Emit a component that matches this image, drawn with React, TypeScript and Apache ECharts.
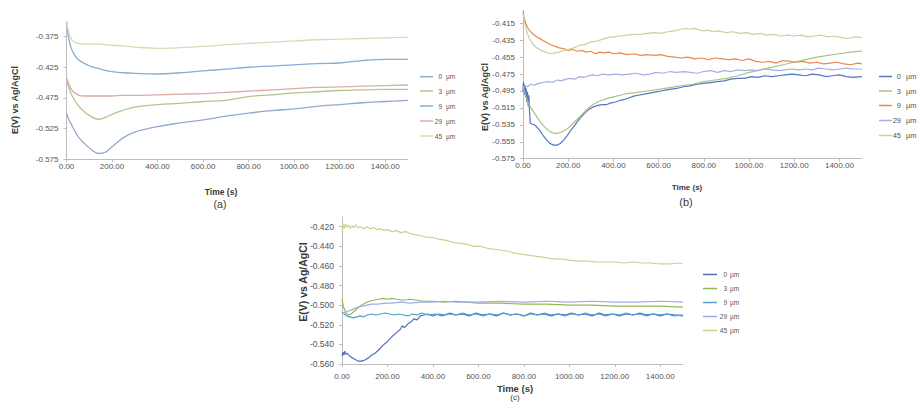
import React, { useEffect, useRef } from "react";
import * as echarts from "echarts";

// ---------- labels ----------
const SIZES = ["0", "3", "9", "29", "45"];
const UNIT = "µm";
const Y_TITLE = "E(V) vs Ag/AgCl";
const X_TITLE = "Time (s)";
const PANEL_TAGS = ["(a)", "(b)", "(c)"];

// ---------- panel (a) ----------
const TIME_A = [0, 10, 25, 50, 80, 110, 140, 170, 200, 250, 300, 400, 500, 600, 700, 800, 900, 1000, 1100, 1200, 1300, 1400, 1500];
const A_0UM = [-0.500, -0.510, -0.521, -0.538, -0.550, -0.560, -0.566, -0.564, -0.555, -0.540, -0.531, -0.522, -0.516, -0.511, -0.505, -0.500, -0.496, -0.493, -0.489, -0.486, -0.483, -0.481, -0.479];
const A_3UM = [-0.443, -0.458, -0.472, -0.487, -0.498, -0.506, -0.510, -0.507, -0.502, -0.495, -0.490, -0.486, -0.484, -0.481, -0.479, -0.473, -0.470, -0.467, -0.465, -0.463, -0.462, -0.461, -0.461];
const A_9UM = [-0.350, -0.378, -0.398, -0.412, -0.419, -0.424, -0.427, -0.430, -0.432, -0.434, -0.435, -0.436, -0.434, -0.431, -0.428, -0.425, -0.423, -0.421, -0.419, -0.418, -0.414, -0.412, -0.412];
const A_29UM = [-0.443, -0.452, -0.463, -0.470, -0.472, -0.472, -0.472, -0.472, -0.472, -0.471, -0.471, -0.470, -0.469, -0.468, -0.466, -0.464, -0.462, -0.460, -0.458, -0.457, -0.456, -0.455, -0.454];
const A_45UM = [-0.350, -0.368, -0.381, -0.386, -0.387, -0.387, -0.387, -0.388, -0.389, -0.390, -0.392, -0.394, -0.393, -0.391, -0.388, -0.386, -0.384, -0.382, -0.380, -0.379, -0.378, -0.377, -0.376];

// ---------- panel (b) : [time, E] ----------
const B_0UM = [[0,-0.495],[2,-0.484],[4,-0.497],[6,-0.487],[8,-0.500],[10,-0.489],[12,-0.503],[14,-0.492],[17,-0.508],[20,-0.496],[23,-0.513],[26,-0.500],[29,-0.520],[32,-0.533],[40,-0.534],[50,-0.535],[60,-0.537],[75,-0.542],[90,-0.548],[105,-0.553],[120,-0.557],[135,-0.559],[150,-0.559],[165,-0.557],[180,-0.553],[195,-0.548],[210,-0.542],[230,-0.535],[250,-0.528],[270,-0.522],[290,-0.517],[310,-0.514],[330,-0.512],[350,-0.511],[370,-0.511],[390,-0.509],[410,-0.508],[430,-0.506],[450,-0.505],[470,-0.503],[490,-0.501],[510,-0.500],[530,-0.499],[550,-0.498],[570,-0.497],[590,-0.496],[610,-0.495],[630,-0.494],[650,-0.493],[680,-0.492],[710,-0.490],[740,-0.489],[770,-0.487],[800,-0.486],[830,-0.485],[860,-0.484],[890,-0.483],[920,-0.481],[950,-0.480],[980,-0.480],[1010,-0.478],[1040,-0.479],[1070,-0.477],[1100,-0.478],[1130,-0.477],[1160,-0.476],[1190,-0.475],[1220,-0.476],[1250,-0.477],[1280,-0.475],[1310,-0.476],[1340,-0.478],[1370,-0.477],[1400,-0.476],[1430,-0.478],[1460,-0.479],[1500,-0.478]];
const B_3UM = [[0,-0.490],[8,-0.497],[16,-0.504],[25,-0.510],[35,-0.515],[45,-0.519],[60,-0.525],[75,-0.531],[90,-0.536],[105,-0.540],[120,-0.543],[135,-0.545],[150,-0.545],[165,-0.544],[180,-0.542],[195,-0.540],[210,-0.536],[230,-0.531],[250,-0.526],[270,-0.520],[290,-0.515],[310,-0.511],[330,-0.508],[350,-0.506],[370,-0.504],[400,-0.502],[430,-0.500],[460,-0.498],[500,-0.497],[550,-0.495],[600,-0.493],[650,-0.491],[700,-0.489],[750,-0.487],[800,-0.484],[850,-0.482],[900,-0.480],[950,-0.477],[1000,-0.473],[1050,-0.470],[1100,-0.467],[1150,-0.464],[1200,-0.461],[1250,-0.458],[1300,-0.455],[1350,-0.453],[1400,-0.451],[1450,-0.449],[1500,-0.448]];
const B_9UM = [[0,-0.401],[5,-0.408],[12,-0.415],[20,-0.420],[30,-0.424],[45,-0.428],[60,-0.431],[80,-0.434],[100,-0.437],[120,-0.440],[140,-0.442],[160,-0.444],[180,-0.445],[200,-0.447],[220,-0.446],[240,-0.448],[260,-0.447],[280,-0.449],[300,-0.448],[320,-0.451],[340,-0.449],[360,-0.450],[380,-0.449],[400,-0.451],[430,-0.450],[460,-0.452],[490,-0.451],[520,-0.453],[550,-0.452],[580,-0.453],[610,-0.452],[640,-0.454],[670,-0.455],[700,-0.456],[730,-0.455],[760,-0.457],[790,-0.456],[820,-0.458],[850,-0.456],[880,-0.457],[910,-0.458],[940,-0.457],[970,-0.459],[1000,-0.457],[1030,-0.460],[1060,-0.461],[1090,-0.460],[1120,-0.462],[1150,-0.459],[1180,-0.460],[1210,-0.461],[1240,-0.460],[1270,-0.462],[1300,-0.461],[1330,-0.463],[1360,-0.462],[1390,-0.461],[1420,-0.463],[1450,-0.464],[1480,-0.462],[1500,-0.463]];
const B_29UM = [[0,-0.492],[10,-0.489],[20,-0.490],[35,-0.487],[50,-0.488],[70,-0.486],[90,-0.485],[110,-0.484],[130,-0.485],[150,-0.482],[170,-0.483],[190,-0.481],[210,-0.480],[230,-0.481],[250,-0.478],[270,-0.479],[290,-0.477],[310,-0.476],[330,-0.477],[350,-0.475],[380,-0.476],[410,-0.475],[440,-0.476],[470,-0.475],[500,-0.474],[530,-0.476],[560,-0.475],[590,-0.473],[620,-0.474],[650,-0.472],[680,-0.473],[710,-0.472],[740,-0.473],[770,-0.474],[800,-0.472],[830,-0.471],[860,-0.473],[890,-0.471],[920,-0.472],[950,-0.470],[980,-0.471],[1010,-0.470],[1040,-0.471],[1070,-0.469],[1100,-0.470],[1130,-0.471],[1160,-0.470],[1190,-0.469],[1220,-0.470],[1250,-0.469],[1280,-0.470],[1310,-0.468],[1340,-0.469],[1370,-0.470],[1400,-0.469],[1430,-0.468],[1460,-0.469],[1500,-0.469]];
const B_45UM = [[0,-0.404],[8,-0.415],[18,-0.426],[30,-0.434],[45,-0.440],[60,-0.444],[80,-0.447],[100,-0.449],[120,-0.451],[140,-0.450],[160,-0.449],[180,-0.447],[200,-0.446],[225,-0.444],[250,-0.441],[275,-0.440],[300,-0.437],[325,-0.436],[350,-0.434],[375,-0.432],[400,-0.431],[430,-0.430],[460,-0.429],[490,-0.428],[520,-0.428],[550,-0.427],[580,-0.426],[610,-0.427],[640,-0.425],[670,-0.424],[700,-0.422],[720,-0.421],[740,-0.422],[760,-0.421],[780,-0.423],[800,-0.424],[820,-0.423],[840,-0.425],[860,-0.424],[880,-0.425],[900,-0.426],[930,-0.425],[960,-0.427],[990,-0.426],[1020,-0.428],[1050,-0.427],[1080,-0.429],[1110,-0.428],[1140,-0.430],[1170,-0.429],[1200,-0.430],[1230,-0.429],[1260,-0.431],[1290,-0.430],[1320,-0.429],[1350,-0.431],[1380,-0.430],[1410,-0.432],[1440,-0.433],[1470,-0.431],[1500,-0.432]];

// ---------- panel (c) : [time, E] ----------
const C_0UM = [[0,-0.552],[4,-0.548],[8,-0.551],[12,-0.547],[16,-0.550],[22,-0.549],[30,-0.551],[40,-0.553],[55,-0.555],[70,-0.557],[85,-0.557],[100,-0.556],[115,-0.554],[130,-0.551],[145,-0.549],[160,-0.546],[180,-0.541],[200,-0.537],[220,-0.532],[240,-0.528],[255,-0.525],[265,-0.521],[275,-0.523],[290,-0.519],[305,-0.517],[315,-0.514],[330,-0.515],[345,-0.511],[360,-0.510],[380,-0.509],[400,-0.511],[425,-0.509],[450,-0.510],[475,-0.508],[500,-0.510],[530,-0.509],[560,-0.511],[590,-0.508],[620,-0.510],[650,-0.509],[680,-0.511],[710,-0.508],[740,-0.510],[770,-0.509],[800,-0.511],[830,-0.508],[860,-0.510],[890,-0.509],[920,-0.511],[950,-0.509],[980,-0.510],[1010,-0.508],[1040,-0.510],[1070,-0.509],[1100,-0.511],[1130,-0.508],[1160,-0.510],[1190,-0.509],[1220,-0.511],[1250,-0.509],[1280,-0.510],[1310,-0.508],[1340,-0.510],[1370,-0.509],[1400,-0.511],[1430,-0.509],[1460,-0.510],[1500,-0.511]];
const C_3UM = [[0,-0.494],[5,-0.500],[10,-0.504],[18,-0.508],[28,-0.510],[40,-0.509],[55,-0.506],[70,-0.503],[85,-0.500],[100,-0.498],[120,-0.496],[140,-0.495],[160,-0.494],[180,-0.493],[200,-0.494],[220,-0.493],[240,-0.494],[270,-0.495],[300,-0.494],[330,-0.495],[360,-0.496],[400,-0.496],[450,-0.497],[500,-0.496],[550,-0.497],[600,-0.498],[700,-0.498],[800,-0.499],[900,-0.499],[1000,-0.500],[1100,-0.500],[1200,-0.501],[1300,-0.501],[1400,-0.501],[1500,-0.502]];
const C_9UM = [[0,-0.507],[10,-0.509],[20,-0.511],[35,-0.512],[50,-0.513],[65,-0.512],[80,-0.511],[95,-0.512],[110,-0.510],[130,-0.509],[150,-0.510],[170,-0.509],[190,-0.508],[210,-0.509],[230,-0.510],[250,-0.509],[270,-0.510],[290,-0.511],[310,-0.509],[330,-0.510],[350,-0.508],[380,-0.510],[410,-0.509],[440,-0.511],[470,-0.509],[500,-0.510],[530,-0.508],[560,-0.510],[590,-0.509],[620,-0.511],[650,-0.509],[680,-0.510],[710,-0.508],[740,-0.510],[770,-0.509],[800,-0.511],[830,-0.509],[860,-0.510],[890,-0.508],[920,-0.510],[950,-0.509],[980,-0.511],[1010,-0.509],[1040,-0.510],[1070,-0.508],[1100,-0.510],[1130,-0.509],[1160,-0.511],[1190,-0.509],[1220,-0.510],[1250,-0.508],[1280,-0.510],[1310,-0.509],[1340,-0.511],[1370,-0.509],[1400,-0.510],[1430,-0.509],[1460,-0.511],[1500,-0.510]];
const C_29UM = [[0,-0.509],[15,-0.507],[30,-0.506],[50,-0.504],[70,-0.502],[90,-0.501],[110,-0.500],[130,-0.499],[160,-0.499],[190,-0.498],[220,-0.498],[260,-0.497],[300,-0.498],[350,-0.497],[400,-0.497],[450,-0.496],[500,-0.497],[600,-0.497],[700,-0.496],[800,-0.497],[900,-0.496],[1000,-0.497],[1100,-0.496],[1200,-0.497],[1300,-0.497],[1400,-0.496],[1500,-0.497]];
const C_45UM = [[0,-0.425],[5,-0.418],[10,-0.422],[15,-0.417],[20,-0.421],[28,-0.418],[36,-0.422],[44,-0.419],[52,-0.421],[60,-0.418],[70,-0.421],[80,-0.420],[95,-0.422],[110,-0.420],[125,-0.422],[140,-0.421],[155,-0.423],[170,-0.422],[185,-0.424],[200,-0.423],[220,-0.425],[240,-0.424],[260,-0.426],[280,-0.425],[300,-0.427],[320,-0.428],[340,-0.429],[360,-0.430],[380,-0.431],[400,-0.431],[430,-0.433],[460,-0.434],[490,-0.436],[520,-0.437],[550,-0.438],[580,-0.440],[610,-0.440],[640,-0.442],[670,-0.443],[700,-0.444],[730,-0.445],[760,-0.447],[790,-0.448],[820,-0.449],[850,-0.450],[880,-0.451],[910,-0.452],[940,-0.453],[970,-0.453],[1000,-0.454],[1040,-0.455],[1080,-0.455],[1120,-0.456],[1160,-0.456],[1200,-0.456],[1240,-0.457],[1280,-0.456],[1320,-0.457],[1360,-0.457],[1400,-0.458],[1440,-0.458],[1480,-0.457],[1500,-0.458]];

// ---------- axis ranges ----------
const X_RANGE = { min: 0, max: 1500, interval: 200 };
const Y_RANGE_A = { min: -0.575, max: -0.35, interval: 0.05 };
const Y_RANGE_B = { min: -0.575, max: -0.40, interval: 0.02 };
const Y_RANGE_C = { min: -0.56, max: -0.41, interval: 0.02 };

const COLORS_A = ["#93a9d4", "#afc78c", "#86aed6", "#d9aea6", "#d9dbb3"];
const COLORS_B = ["#5377c2", "#a8c47e", "#eb8a4c", "#a3b0e2", "#c3d49d"];
const COLORS_C = ["#4e6fc0", "#93b852", "#4fa2c9", "#a0aae6", "#c2d78e"];

const FONT = "'Liberation Sans', Arial, sans-serif";
const AXIS_COLOR = "#bdbdbd";
const LABEL_COLOR = "#555555";

export default function App() {
  const ref = useRef<HTMLDivElement>(null);

  useEffect(() => {
    if (!ref.current) return;
    const chart = echarts.init(ref.current, undefined, { renderer: "svg" });

    const grids = [
      { left: 66.5, top: 21.4, width: 341.5, height: 137.6 },
      { left: 523, top: 10.6, width: 339, height: 148.1 },
      { left: 342, top: 216.9, width: 341, height: 147.1 },
    ];

    const mkX = (gi: number, margin: number) => ({
      type: "value",
      gridIndex: gi,
      ...X_RANGE,
      axisLine: { lineStyle: { color: AXIS_COLOR, width: 1 } },
      axisTick: { show: true, length: 3, lineStyle: { color: AXIS_COLOR } },
      splitLine: { show: false },
      axisLabel: {
        formatter: (v: number) => v.toFixed(2),
        showMaxLabel: false,
        fontSize: 8,
        color: LABEL_COLOR,
        fontFamily: FONT,
        margin,
      },
    });
    const mkY = (gi: number, range: any, fontSize: number) => ({
      type: "value",
      gridIndex: gi,
      ...range,
      axisLine: { show: true, lineStyle: { color: AXIS_COLOR, width: 1 } },
      axisTick: { show: true, length: 3, lineStyle: { color: AXIS_COLOR } },
      splitLine: { show: false },
      axisLabel: {
        formatter: (v: number) => v.toFixed(3),
        showMaxLabel: false,
        fontSize,
        color: LABEL_COLOR,
        fontFamily: FONT,
        margin: 8,
      },
    });

    const seriesA = [A_0UM, A_3UM, A_9UM, A_29UM, A_45UM].map((vals, i) => ({
      type: "line",
      name: `${SIZES[i]} ${UNIT} (a)`,
      xAxisIndex: 0,
      yAxisIndex: 0,
      data: TIME_A.map((t, k) => [t, vals[k]]),
      smooth: 0.4,
      showSymbol: false,
      lineStyle: { color: COLORS_A[i], width: 1.3 },
    }));
    const seriesB = [B_0UM, B_3UM, B_9UM, B_29UM, B_45UM].map((d, i) => ({
      type: "line",
      name: `${SIZES[i]} ${UNIT} (b)`,
      xAxisIndex: 1,
      yAxisIndex: 1,
      data: d,
      showSymbol: false,
      lineStyle: { color: COLORS_B[i], width: 1.2 },
    }));
    const seriesC = [C_0UM, C_3UM, C_9UM, C_29UM, C_45UM].map((d, i) => ({
      type: "line",
      name: `${SIZES[i]} ${UNIT} (c)`,
      xAxisIndex: 2,
      yAxisIndex: 2,
      data: d,
      showSymbol: false,
      lineStyle: { color: COLORS_C[i], width: 1.2 },
    }));

    const legend = (
      colors: string[],
      x1: number,
      x2: number,
      numRight: number,
      unitLeft: number,
      ys: number[],
      fontSize: number
    ) => {
      const els: any[] = [];
      SIZES.forEach((s, i) => {
        els.push({
          type: "line",
          silent: true,
          shape: { x1, y1: ys[i], x2, y2: ys[i] },
          style: { stroke: colors[i], lineWidth: 1.5 },
        });
        els.push({
          type: "text",
          silent: true,
          x: numRight,
          y: ys[i],
          style: { text: s, fontSize, fill: LABEL_COLOR, fontFamily: FONT, align: "right", verticalAlign: "middle" },
        });
        els.push({
          type: "text",
          silent: true,
          x: unitLeft,
          y: ys[i],
          style: { text: UNIT, fontSize, fill: LABEL_COLOR, fontFamily: FONT, align: "left", verticalAlign: "middle" },
        });
      });
      return els;
    };

    const title = (text: string, x: number, y: number, fontSize: number, bold: boolean, rot = 0) => ({
      type: "text",
      silent: true,
      x,
      y,
      rotation: rot,
      style: {
        text,
        fontSize,
        fontWeight: bold ? "bold" : "normal",
        fill: "#3a3a3a",
        fontFamily: FONT,
        align: "center",
        verticalAlign: "middle",
      },
    });

    const graphic = [
      ...legend(COLORS_A, 420, 433, 442, 446, [76.7, 91, 106, 121, 136], 6.5),
      ...legend(COLORS_B, 879, 892, 901, 906, [76.5, 91, 105.5, 120.5, 135.5], 7.5),
      ...legend(COLORS_C, 703, 717, 727, 730, [274.5, 288.5, 302.5, 316.5, 330.5], 6.5),
      title(Y_TITLE, 15, 100, 9, true, Math.PI / 2),
      title(Y_TITLE, 485, 97, 9, true, Math.PI / 2),
      title(Y_TITLE, 303, 282, 10.5, true, Math.PI / 2),
      title(X_TITLE, 221, 192, 8.5, true),
      title(X_TITLE, 687, 187, 8, true),
      title(X_TITLE, 515, 388, 9.5, true),
      title(PANEL_TAGS[0], 220, 204, 10.5, false),
      title(PANEL_TAGS[1], 686, 202, 11, false),
      title(PANEL_TAGS[2], 515, 397.5, 8, false),
    ];

    chart.setOption({
      animation: false,
      backgroundColor: "#ffffff",
      grid: grids.map((g) => ({ ...g, containLabel: false })),
      xAxis: [mkX(0, 3), mkX(1, 3), mkX(2, 8)],
      yAxis: [mkY(0, Y_RANGE_A, 8), mkY(1, Y_RANGE_B, 8), mkY(2, Y_RANGE_C, 8.5)],
      series: [...seriesA, ...seriesB, ...seriesC],
      graphic,
    } as any);

    return () => chart.dispose();
  }, []);

  return (
    <div
      ref={ref}
      style={{ position: "absolute", left: 0, top: 0, width: 918, height: 402, background: "#fff" }}
    />
  );
}
